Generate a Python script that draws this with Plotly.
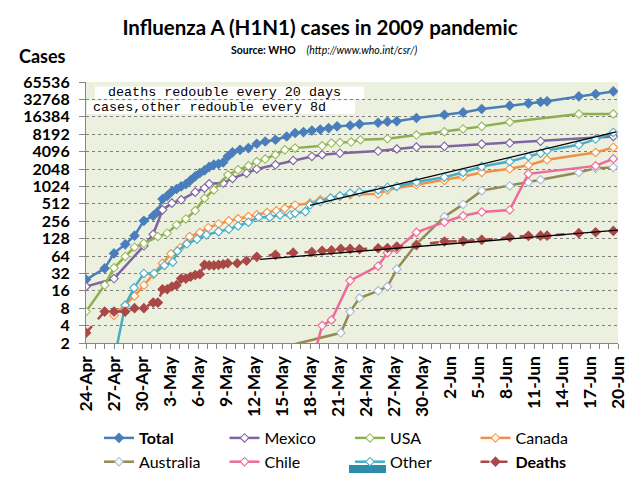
import math
import pandas as pd
import plotly.graph_objects as go

START = pd.Timestamp("2009-04-24")

# ---- data (days since 24-Apr-2009, cumulative counts) ----
total_day = [0, 2, 3, 4.2, 5.2, 6.2, 7.2, 7.7, 8.2, 8.7, 9.2, 9.7, 10.2, 10.7, 11.2, 11.7, 12.2, 12.7, 13.2, 13.7,
             14.2, 14.7, 15.2, 15.7, 16.5, 17.4, 18.3, 19.2, 20.3, 21.5, 22.4, 23.3, 24.2, 25.1, 26.0, 26.9, 28.3,
             29.3, 31.3, 32.3, 33.3, 35.4, 38.4, 40.4, 42.4, 45.4, 47.4, 48.7, 49.4, 52.8, 54.6, 56.5]
total_val = [25, 39, 71, 102, 144, 260, 317, 377, 617, 704, 838, 923, 1025, 1121, 1305, 1531, 1746, 1938, 2226, 2435,
             2504, 2665, 3397, 3983, 4389, 4705, 5595, 6123, 6562, 7486, 8596, 8900, 9473, 9830, 10440, 11190, 11585,
             12246, 12944, 13494, 13777, 15608, 17800, 19484, 22381, 25530, 27936, 29530, 30360, 36870, 40620, 45060]

mexico_day = [0, 3, 6.2, 7.2, 8.2, 9.2, 10.2, 11.7, 12.7, 13.2, 14.7, 15.7, 17.2, 18.3, 20.3, 22.2, 24.2, 25.3, 27.2,
              31.3, 33.3, 35.4, 38.4, 42.4, 45.4, 48.7, 56.5]
mexico_val = [19, 26, 96, 152, 402, 526, 600, 815, 955, 1136, 1168, 1408, 1736, 2048, 2418, 2876, 3373, 3615, 3848,
              4180, 4544, 4904, 5042, 5518, 5752, 6208, 7486]

usa_day = [0, 2, 3, 4.2, 5.2, 6.2, 7.7, 8.7, 9.7, 10.7, 11.7, 12.7, 13.7, 15.2, 16.3, 17.4, 18.3, 19.2, 20.3, 21.3,
           22.4, 25.3, 26.3, 27.2, 28.4, 29.4, 32.3, 35.4, 38.4, 40.4, 42.4, 45.4, 52.8, 56.5]
usa_val = [7, 20, 40, 63, 91, 106, 139, 159, 221, 280, 391, 639, 891, 1629, 1978, 2320, 2759, 3040, 3615, 4389,
           4705, 5148, 5752, 5872, 5995, 6562, 6840, 7912, 9025, 10085, 11190, 13300, 18300, 18300]

canada_day = [3, 4.2, 5.2, 6.2, 7.2, 8.2, 9.1, 10.1, 11.1, 12.2, 13.1, 14.2, 15.3, 16.3, 17.4, 18.3, 19.4, 20.4, 21.3,
              22.4, 24.0, 25.1, 27.2, 28.3, 31.3, 32.3, 35.4, 38.4, 40.4, 42.4, 45.4, 47.4, 49.4, 54.6, 56.5]
canada_val = [6, 9, 13, 20, 31, 48, 70, 89, 139, 163, 198, 230, 260, 282, 308, 330, 362, 387, 425,
              485, 526, 600, 700, 734, 760, 891, 1090, 1296, 1520, 1783, 2062, 2385, 2957, 3956, 4837]

australia_day = [15.3, 27.3, 28.3, 29.3, 31.3, 32.3, 33.3, 35.4, 38.4, 40.4, 42.4, 45.4, 47.4, 48.7, 52.8, 54.6, 56.5]
australia_val = [1, 3, 7, 12, 16, 19, 38, 103, 306, 500, 865, 1045, 1218, 1333, 1783, 2120, 2180]

chile_day = [24.3, 25.3, 26.3, 28.3, 31.3, 32.3, 33.3, 35.4, 38.4, 40.4, 42.4, 45.4, 47.4, 54.6, 56.5]
chile_val = [1, 4, 5, 24, 43, 73, 84, 164, 246, 317, 368, 401, 1687, 2320, 3082]

other_day = [3, 4.2, 5.15, 6.2, 7.3, 8.4, 9.3, 9.8, 10.8, 11.9, 12.9, 14.2, 15.3, 16.3, 17.4, 18.5, 19.7, 20.8, 21.9,
             22.4, 23.5, 24.0, 25.1, 26.2, 27.2, 28.3, 29.3, 31.3, 32.3, 33.3, 35.4, 38.4, 40.4, 42.4, 45.4, 47.4,
             48.7, 49.4, 52.8, 54.6, 56.5]
other_val = [1, 9, 18, 32, 32, 44, 50, 78, 104, 125, 148, 169, 186, 212, 246, 300, 300, 329, 329,
             352, 375, 491, 560, 643, 700, 780, 815, 891, 982, 1024, 1218, 1478, 1783, 2256, 2759, 3373,
             3848, 4270, 5368, 6742, 8780]

deaths_day = [0, 2, 3, 4.2, 5.2, 6.2, 7.2, 7.7, 8.2, 8.7, 9.2, 9.7, 10.2, 10.7, 11.2, 11.7, 12.2, 12.7, 13.2, 13.7,
              14.2, 14.7, 15.2, 16.2, 17.2, 18.3, 20.3, 22.2, 24.2, 25.3, 26.3, 27.3, 28.3, 29.3, 31.3, 32.3, 33.3,
              35.4, 38.4, 40.4, 42.4, 45.4, 47.4, 48.7, 49.4, 52.8, 54.6, 56.5]
deaths_val = [3, 7, 7, 7, 8, 8, 10, 10, 17, 17, 19, 20, 26, 26, 28, 30, 31, 45, 44, 44,
              45, 46, 48, 48, 53, 62, 67, 73, 75, 79, 80, 85, 85, 84, 87, 88, 93,
              99, 114, 116, 122, 135, 143, 144, 144, 159, 165, 174]

# trend lines (start / end)
cases_trend_day = [24.0, 56.8]
cases_trend_val = [480, 9000]
deaths_trend_day = [18.65, 57.0]
deaths_trend_val = [56, 179]

y_tick_vals = [2, 4, 8, 16, 32, 64, 128, 256, 512, 1024, 2048, 4096, 8192, 16384, 32768, 65536]
x_tick_dates = ["2009-04-24", "2009-04-27", "2009-04-30", "2009-05-03", "2009-05-06", "2009-05-09", "2009-05-12",
                "2009-05-15", "2009-05-18", "2009-05-21", "2009-05-24", "2009-05-27", "2009-05-30", "2009-06-02",
                "2009-06-05", "2009-06-08", "2009-06-11", "2009-06-14", "2009-06-17", "2009-06-20"]
x_tick_labels = ["24-Apr", "27-Apr", "30-Apr", "3-May", "6-May", "9-May", "12-May", "15-May", "18-May", "21-May",
                 "24-May", "27-May", "30-May", "2-Jun", "5-Jun", "8-Jun", "11-Jun", "14-Jun", "17-Jun", "20-Jun"]


def to_dates(days):
    return [START + pd.Timedelta(days=d) for d in days]


FONT = "Lato"
fig = go.Figure()

series = [
    ("<b>Total</b>", total_day, total_val, "#4A7EBB", "#4A7EBB", "#4A7EBB", "solid", 7),
    ("Mexico", mexico_day, mexico_val, "#7F64A2", "white", "#7F64A2", "solid", 6.5),
    ("USA", usa_day, usa_val, "#8EAF50", "white", "#9BBB59", "solid", 6.5),
    ("Canada", canada_day, canada_val, "#F0914A", "white", "#F79646", "solid", 6.5),
    ("Australia", australia_day, australia_val, "#948A54", "white", "#A6BDD7", "solid", 6.5),
    ("Chile", chile_day, chile_val, "#EE6A9A", "white", "#EE6A9A", "solid", 6.5),
    ("Other", other_day, other_val, "#4BACC6", "white", "#4BACC6", "solid", 6.5),
    ("<b>Deaths</b>", deaths_day, deaths_val, "#A94846", "#A94846", "#A94846", "dash", 7),
]

for name, d, v, lc, mfill, mline, dash, ms in series:
    fig.add_trace(go.Scatter(
        x=to_dates(d), y=v, name=name, mode="lines+markers",
        line=dict(color=lc, width=2.5, dash=dash),
        marker=dict(symbol="diamond", size=ms, color=mfill, line=dict(color=mline, width=1.1)),
    ))

for d, v in [(cases_trend_day, cases_trend_val), (deaths_trend_day, deaths_trend_val)]:
    fig.add_trace(go.Scatter(x=to_dates(d), y=v, mode="lines", showlegend=False,
                             line=dict(color="black", width=1.3), hoverinfo="skip"))

# plot area geometry (pixels) for paper-space helpers
PL, PR, PT, PB = 86, 618, 82, 343


def px(x):
    return (x - PL) / (PR - PL)


def py(y):
    return (PB - y) / (PB - PT)


shapes = [
    dict(type="rect", xref="paper", yref="paper", x0=px(95), x1=px(364), y0=py(99), y1=py(86.5),
         fillcolor="white", line=dict(width=0), layer="above"),
    dict(type="rect", xref="paper", yref="paper", x0=px(87), x1=px(355), y0=py(114), y1=py(100.5),
         fillcolor="white", line=dict(width=0), layer="above"),
    dict(type="rect", xref="paper", yref="paper", x0=px(349), x1=px(386), y0=py(473), y1=py(465),
         fillcolor="#2B8CAB", line=dict(width=0), layer="above"),
]

annotations = [
    dict(text="deaths redouble every 20 days", xref="paper", yref="paper", x=px(106), y=py(92.8),
         xanchor="left", yanchor="middle", showarrow=False,
         font=dict(family="Liberation Mono", size=13.4, color="black")),
    dict(text="cases,other redouble every 8d", xref="paper", yref="paper", x=px(91), y=py(107.5),
         xanchor="left", yanchor="middle", showarrow=False,
         font=dict(family="Liberation Mono", size=13.4, color="black")),
    dict(text="<b>Source: WHO</b>\u00a0\u00a0\u00a0\u00a0<i>(http://www.who.int/csr/)</i>", xref="paper",
         yref="paper", x=px(324), y=py(50), xanchor="center", yanchor="middle", showarrow=False,
         font=dict(family=FONT, size=10.5, color="black")),
    dict(text="<b>Cases</b>", xref="paper", yref="paper", x=px(17), y=py(56), xanchor="left",
         yanchor="middle", showarrow=False, font=dict(family=FONT, size=18, color="black")),
]

fig.update_layout(
    template="none",
    width=640, height=480,
    margin=dict(l=PL, r=640 - PR, t=PT, b=480 - PB, pad=0, autoexpand=False),
    paper_bgcolor="white", plot_bgcolor="#EBF1DE",
    title=dict(text="<b>Influenza A (H1N1) cases in 2009 pandemic</b>", x=0.5, xanchor="center",
               xref="container", yref="container",
               y=1 - 28 / 480, yanchor="middle", font=dict(family=FONT, size=20.5, color="black")),
    font=dict(family=FONT, color="black"),
    showlegend=True,
    legend=dict(orientation="h", xref="container", yref="container",
                x=99 / 640, xanchor="left", y=1 - 421 / 480, yanchor="top",
                entrywidth=80.5, entrywidthmode="pixels", traceorder="normal",
                font=dict(family=FONT, size=16, color="black"), bgcolor="rgba(0,0,0,0)",
                borderwidth=0, itemwidth=30),
    shapes=shapes, annotations=annotations,
    xaxis=dict(type="date", range=[START, pd.Timestamp("2009-06-20")], automargin=False,
               tickvals=x_tick_dates, ticktext=x_tick_labels, tickangle=-90,
               tickfont=dict(family=FONT, size=17.5, color="black", weight="bold"),
               ticks="outside", ticklen=5, tickcolor="#868686", tickwidth=1,
               minor=dict(dtick=86400000, tick0="2009-04-24", ticks="outside", ticklen=5,
                          tickcolor="#868686", tickwidth=1, showgrid=False),
               showline=True, linecolor="#868686", linewidth=1.2, showgrid=False, zeroline=False),
    yaxis=dict(type="log", range=[math.log10(2), math.log10(65536)], automargin=False,
               tickvals=y_tick_vals, ticktext=[str(v) for v in y_tick_vals],
               tickfont=dict(family=FONT, size=16, color="black", weight="bold"),
               ticks="outside", ticklen=6, tickcolor="#868686", ticklabelstandoff=6,
               showline=True, linecolor="#868686", linewidth=1.2,
               showgrid=True, gridcolor="#7F7F7F", griddash="dot", gridwidth=1, zeroline=False),
)

fig.write_html("out.html", config={"displayModeBar": False},
               post_script="document.body.style.margin='0';")
